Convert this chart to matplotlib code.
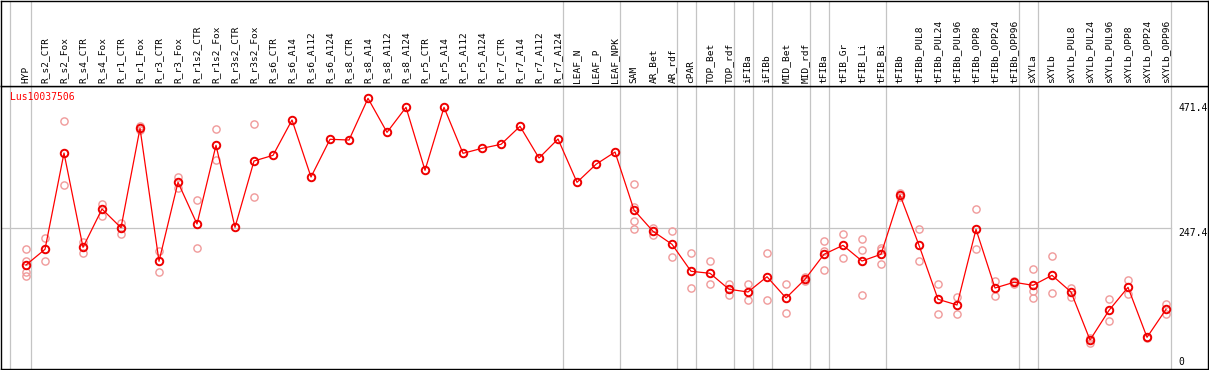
import matplotlib
matplotlib.use('Agg')
import matplotlib.pyplot as plt

# 樣本名稱(橫軸)
categories = ['HYP', 'R_s2_CTR', 'R_s2_Fox', 'R_s4_CTR', 'R_s4_Fox', 'R_r1_CTR', 'R_r1_Fox',
              'R_r3_CTR', 'R_r3_Fox', 'R_r1s2_CTR', 'R_r1s2_Fox', 'R_r3s2_CTR', 'R_r3s2_Fox',
              'R_s6_CTR', 'R_s6_A14', 'R_s6_A112', 'R_s6_A124', 'R_s8_CTR', 'R_s8_A14',
              'R_s8_A112', 'R_s8_A124', 'R_r5_CTR', 'R_r5_A14', 'R_r5_A112', 'R_r5_A124',
              'R_r7_CTR', 'R_r7_A14', 'R_r7_A112', 'R_r7_A124', 'LEAF_N', 'LEAF_P', 'LEAF_NPK',
              'SAM', 'AR_Bet', 'AR_rdf', 'cPAR', 'TOP_Bet', 'TOP_rdf', 'iFIBa', 'iFIBb',
              'MID_Bet', 'MID_rdf', 'tFIBa', 'tFIB_Gr', 'tFIB_Li', 'tFIB_Bi', 'tFIBb',
              'tFIBb_PUL8', 'tFIBb_PUL24', 'tFIBb_PUL96', 'tFIBb_OPP8', 'tFIBb_OPP24',
              'tFIBb_OPP96', 'sXYLa', 'sXYLb', 'sXYLb_PUL8', 'sXYLb_PUL24', 'sXYLb_PUL96',
              'sXYLb_OPP8', 'sXYLb_OPP24', 'sXYLb_OPP96']

# 平均表現量
means = [182.0, 210.0, 381.6, 213.5, 281.8, 248.5, 425.7, 188.6, 329.4, 255.1, 395.4, 249.2,
         367.4, 377.5, 440.5, 338.9, 406.1, 404.8, 479.1, 418.5, 463.1, 350.8, 463.1, 381.1,
         390.0, 397.1, 429.2, 372.7, 406.6, 329.4, 361.5, 383.4, 280.0, 242.1, 218.9, 170.8,
         167.2, 138.7, 133.9, 161.1, 123.2, 156.5, 201.1, 217.1, 189.1, 201.1, 306.8, 217.1,
         120.9, 110.7, 245.6, 141.0, 151.2, 145.8, 163.6, 133.9, 48.3, 101.2, 142.2, 53.1, 103.0]

# 各重複樣本
replicates = [[210.5, 189.1, 170.1, 161.9], [229.6, 188.6], [438.1, 324.1], [223.5, 202.9],
              [290.7, 269.3], [256.3, 237.3], [430.3, 422.6], [207.5, 170.1], [338.3, 318.7],
              [297.3, 211.8], [423.9, 368.6], [], [432.8, 302.7], [], [], [], [], [], [], [],
              [], [], [], [], [], [], [], [], [], [], [], [],
              [326.4, 285.9, 260.4, 245.6], [247.4, 236.0], [242.6, 195.7], [202.9, 140.5],
              [189.1, 147.6], [148.7, 128.5], [147.6, 120.1], [202.9, 120.1], [147.6, 95.9],
              [161.1, 153.5], [224.1, 207.5, 173.1], [236.7, 195.0], [227.8, 208.2, 129.1],
              [212.8, 208.7, 183.2], [309.8, 303.2], [245.6, 189.1], [147.6, 94.1],
              [125.5, 94.1], [281.3, 210.0], [153.5, 126.2], [153.5, 148.7],
              [174.3, 136.2, 123.7], [197.5, 131.6], [141.5, 125.5], [52.4, 42.4],
              [120.9, 82.2], [155.3, 130.3], [54.2, 51.9], [113.0, 94.1]]

# 分組的最後一個樣本(畫灰色分隔線)
group_ends = ['HYP', 'R_r7_A124', 'LEAF_NPK', 'AR_rdf', 'cPAR', 'TOP_rdf', 'iFIBa', 'iFIBb',
              'MID_rdf', 'tFIBa', 'tFIB_Bi', 'tFIBb_OPP96', 'sXYLa', 'sXYLb_OPP96']
gene = 'Lus10037506'
y_marks = [471.4, 247.4]

W, H = 1209, 370
font = 'DejaVu Sans Mono'
grey = '#c4c4c4'

fig = plt.figure(figsize=(W / 100, H / 100), dpi=100)
ax = fig.add_axes([1 / W, 1 / H, 1207 / W, 283 / H])
hx = fig.add_axes([1 / W, 284 / H, 1207 / W, 85.5 / H], sharex=ax)

x = list(range(len(categories)))
seps = [-0.84] + [categories.index(g) + 0.24 for g in group_ends]

for a in (ax, hx):
    for s in seps:
        a.axvline(s, color=grey, lw=0.9, zorder=1)
    for sp in a.spines.values():
        sp.set_color('black')
        sp.set_linewidth(1.0)
    a.tick_params(left=False, bottom=False, labelleft=False, labelbottom=False)

ax.set_xlim(-1.316, 62.21)
ax.set_ylim(-3.4, 501.1)
hx.set_ylim(0, 1)

# 灰色水平線
ax.plot([-1.316, seps[-1]], [y_marks[1], y_marks[1]], color=grey, lw=0.9, zorder=1)

# 重複樣本
for i, reps in enumerate(replicates):
    if reps:
        ax.plot([i] * len(reps), reps, 'o', mfc='none', mec='#f09a9a', ms=5.2, mew=1.0, zorder=2)

# 平均值折線
ax.plot(x, means, '-', color='red', lw=0.9, marker='o', ms=5.4, mfc='none',
        mec='#ee0000', mew=1.4, zorder=3)

# 右側數值標籤
lx = seps[-1] + 0.4
for v in y_marks:
    ax.text(lx, v, str(v), family=font, fontsize=7, va='top', ha='left', color='black')
ax.text(lx, 0, '0', family=font, fontsize=7, va='bottom', ha='left', color='black')

ax.text(9 / 1207, 0.961, gene, transform=ax.transAxes, family=font, fontsize=7,
        color='red', va='center', ha='left')

# 上方樣本名稱
for i, c in enumerate(categories):
    hx.text(i, 0.035, c, rotation=90, family=font, fontsize=6.8, ha='center', va='bottom')

fig.savefig('out.png', dpi=100)
